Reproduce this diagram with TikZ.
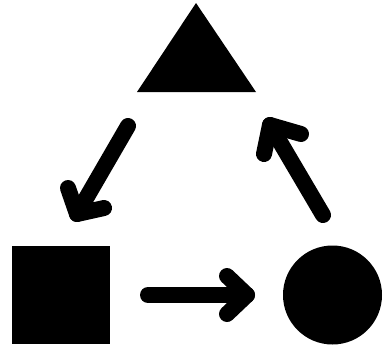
\documentclass[tikz,border=0pt]{standalone}
\begin{document}
\begin{tikzpicture}[x=1pt,y=-1pt,
  shapefill/.style={fill=black,draw=none},
  conn/.style={draw=black,line width=16pt,line cap=round,line join=round}]
\useasboundingbox (0,0) rectangle (383,351);
% shapes
\coordinate (triA) at (196,3);
\coordinate (triL) at (137,92);
\coordinate (triR) at (256,92);
\fill[shapefill] (triA) -- (triL) -- (triR) -- cycle;
\fill[shapefill] (12,246) rectangle (110,344);
\fill[shapefill] (332.5,295) circle[radius=49.5];
% arrow triangle -> square
\coordinate (a1s) at (128,126);
\coordinate (a1v) at (77,214);
\coordinate (a1p) at (68,188);
\coordinate (a1q) at (104,208);
\draw[conn] (a1s) -- (a1v);
\draw[conn] (a1p) -- (a1v) -- (a1q);
% arrow square -> circle
\coordinate (a2s) at (148,295);
\coordinate (a2v) at (247,295);
\coordinate (a2p) at (227,276);
\coordinate (a2q) at (227,314);
\draw[conn] (a2s) -- (a2v);
\draw[conn] (a2p) -- (a2v) -- (a2q);
% arrow circle -> triangle
\coordinate (a3s) at (323,215);
\coordinate (a3v) at (270,125);
\coordinate (a3p) at (264,154);
\coordinate (a3q) at (301,134);
\draw[conn] (a3s) -- (a3v);
\draw[conn] (a3p) -- (a3v) -- (a3q);
\end{tikzpicture}
\end{document}
